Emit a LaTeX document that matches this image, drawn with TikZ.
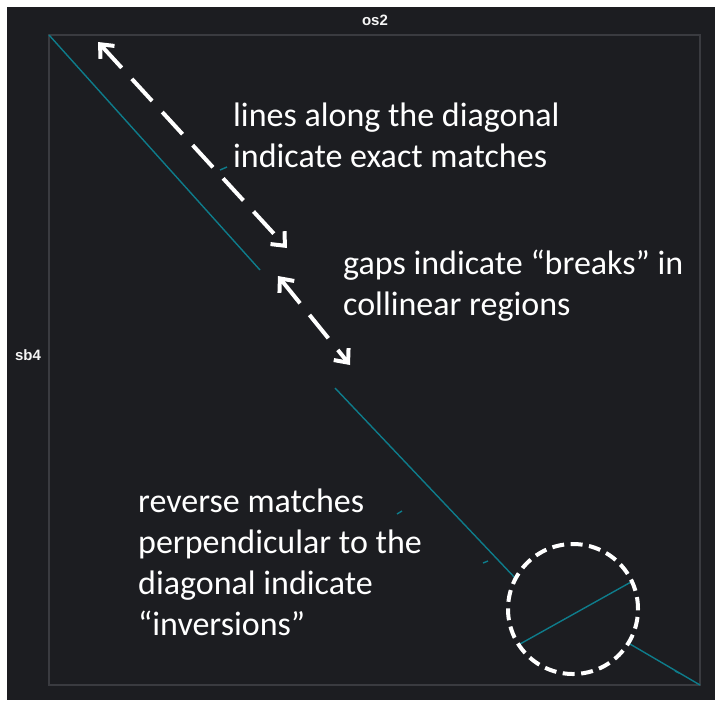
\documentclass[tikz,border=0pt]{standalone}
\usepackage{fontspec}
\setmainfont{Carlito}
\newfontfamily\axisfont{Liberation Sans}
\usetikzlibrary{arrows.meta}
\definecolor{plotbg}{HTML}{1C1D21}
\definecolor{framegray}{HTML}{3A3B40}
\definecolor{hitteal}{HTML}{0E7C8B}

\begin{document}
\begin{tikzpicture}[x=1pt, y=-1pt,
    note/.style={text=white, font=\fontsize{34}{41}\selectfont,
        align=left, anchor=base west, inner sep=0pt},
    axislabel/.style={text=white!92!gray, font=\axisfont\bfseries\fontsize{15}{18}\selectfont},
    hit/.style={draw=hitteal, line width=1.4pt},
    pointer/.style={draw=white, line width=4pt, dash pattern=on 30pt off 15pt,
        {Straight Barb[length=11pt, width=19pt]}-{Straight Barb[length=11pt, width=19pt]}},
    ring/.style={draw=white, line width=4pt, dash pattern=on 12pt off 6.5pt}]
        % page and plot area
        \fill[white] (0, 0) rectangle (725, 705);
        \fill[plotbg] (7, 7) rectangle (715, 700);
        \draw[framegray, line width=1.5pt] (49, 35) rectangle (700, 685);
        \node[axislabel] (os) at (375, 20) {os2};
        \node[axislabel] (sb) at (28, 355) {sb4};

        % matches
        \draw[hit] (49, 35) -- (260, 270);
        \draw[hit] (335, 388) -- (517, 580);
        \draw[hit] (520, 644) -- (631, 582);
        \draw[hit] (630, 644) -- (700, 685);
        \draw[hit] (220, 170) -- (227, 167);
        \draw[hit] (397, 514) -- (402, 511);
        \draw[hit] (483, 563) -- (488, 561);
        \draw[hit] (675, 671) -- (679, 673);

        % annotations
        \coordinate (a1) at (98, 42);
        \coordinate (b1) at (287, 248);
        \coordinate (a2) at (278, 276);
        \coordinate (b2) at (350, 365);
        \draw[pointer] (a1) -- (b1);
        \draw[pointer] (a2) -- (b2);
        \draw[ring] (573, 609) circle[radius=65pt];

        % base anchor sits on the last line
        \node[note] (exact) at (233, 167) {lines along the diagonal\\indicate exact matches};
        \node[note] (gaps) at (343, 315) {gaps indicate “breaks” in\\collinear regions};
        \node[note] (inv) at (138, 635) {reverse matches\\perpendicular to the\\diagonal indicate\\“inversions”};
    \end{tikzpicture}
\end{document}
